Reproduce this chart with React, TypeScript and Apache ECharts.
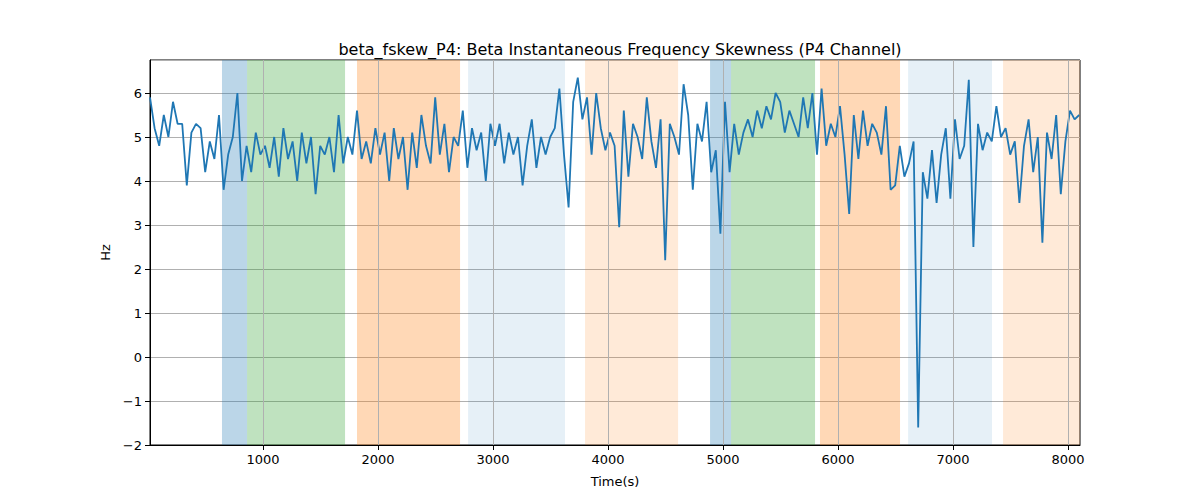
import React, { useEffect, useRef } from 'react';
import * as echarts from 'echarts';

const startTime = 17;
const step = 40;
const values: number[] = [
  5.9, 5.2, 4.8, 5.5, 5.0, 5.8, 5.3, 5.3, 3.9, 5.1, 5.3, 5.2, 4.2, 4.9, 4.5, 5.5, 3.8, 4.6, 5.0, 6.0, 4.0, 4.8, 4.2, 5.1, 4.6,
  4.8, 4.3, 5.0, 4.1, 5.2, 4.5, 4.9, 4.0, 5.1, 4.4, 5.0, 3.7, 4.8, 4.6, 5.0, 4.2, 5.5, 4.4, 5.0, 4.6, 5.6, 4.5, 4.9, 4.4, 5.2,
  4.6, 5.1, 4.0, 5.2, 4.5, 5.0, 3.8, 5.1, 4.3, 5.5, 4.8, 4.4, 5.9, 4.6, 5.3, 4.2, 5.0, 4.8, 5.6, 4.3, 5.2, 4.7, 5.1, 4.0, 5.3,
  4.8, 5.3, 4.4, 5.1, 4.6, 5.0, 3.9, 4.8, 5.4, 4.3, 5.0, 4.6, 5.0, 5.2, 6.1, 4.6, 3.4, 5.8, 6.35, 5.4, 5.9, 4.6, 6.0, 5.2, 4.7,
  5.1, 4.8, 2.95, 5.6, 4.1, 5.3, 5.0, 4.5, 5.9, 4.9, 4.3, 5.4, 2.2, 5.3, 5.0, 4.6, 6.2, 5.5, 3.8, 5.3, 4.9, 5.8, 4.2, 4.7, 2.8,
  5.8, 4.2, 5.3, 4.6, 5.1, 5.4, 5.0, 5.6, 5.2, 5.7, 5.4, 6.0, 5.8, 5.1, 5.6, 5.3, 5.0, 5.9, 5.2, 6.0, 4.6, 6.1, 4.8, 5.3, 5.0,
  5.7, 4.6, 3.25, 5.5, 4.5, 5.6, 4.8, 5.3, 5.1, 4.6, 5.7, 3.8, 3.9, 4.8, 4.1, 4.4, 4.9, -1.6, 4.2, 3.6, 4.7, 3.5, 4.6, 5.2, 3.6,
  5.4, 4.5, 4.8, 6.3, 2.5, 5.3, 4.7, 5.1, 4.9, 5.7, 5.0, 5.2, 4.6, 4.9, 3.5, 4.8, 5.4, 4.2, 5.0, 2.6, 5.1, 4.5, 5.5, 3.7, 4.9,
  5.6, 5.4, 5.5,
];

const bands: [number, number, string][] = [
  [643, 861, 'rgba(31,119,180,0.3)'],
  [861, 1713, 'rgba(44,160,44,0.3)'],
  [1817, 2713, 'rgba(255,127,14,0.3)'],
  [2783, 3626, 'rgba(31,119,180,0.11)'],
  [3800, 4609, 'rgba(255,127,14,0.16)'],
  [4887, 5070, 'rgba(31,119,180,0.3)'],
  [5070, 5800, 'rgba(44,160,44,0.3)'],
  [5843, 6539, 'rgba(255,127,14,0.3)'],
  [6609, 7339, 'rgba(31,119,180,0.11)'],
  [7435, 8104, 'rgba(255,127,14,0.16)'],
];

const xTicks = [1000, 2000, 3000, 4000, 5000, 6000, 7000, 8000];

const App: React.FC = () => {
  const chartRef = useRef<HTMLDivElement>(null);

  useEffect(() => {
    if (!chartRef.current) return;
    const chart = echarts.init(chartRef.current, undefined, { renderer: 'svg' });
    const font = 'DejaVu Sans';
    chart.setOption({
      animation: false,
      textStyle: { fontFamily: font },
      title: {
        text: 'beta_fskew_P4: Beta Instantaneous Frequency Skewness (P4 Channel)',
        left: 615, top: 36, textAlign: 'center',
        textStyle: { fontSize: 16, fontWeight: 'normal', color: '#000', fontFamily: font },
      },
      grid: { left: 150, right: 120, top: 60, bottom: 55, show: true, borderColor: '#000', borderWidth: 1 },
      xAxis: {
        type: 'value', min: startTime, max: 8104,
        name: 'Time(s)', nameLocation: 'middle', nameGap: 30,
        nameTextStyle: { fontSize: 13, color: '#000' },
        axisLine: { onZero: false, lineStyle: { color: '#000' } },
        axisTick: { show: true, customValues: xTicks, lineStyle: { color: '#000' } },
        axisLabel: { customValues: xTicks, color: '#000', fontSize: 13, formatter: (v: number) => String(v) },
        splitLine: { show: false },
      },
      yAxis: {
        type: 'value', min: -2, max: 6.75, interval: 1,
        name: 'Hz', nameLocation: 'middle', nameGap: 35,
        nameTextStyle: { fontSize: 13, color: '#000' },
        axisLine: { show: true, lineStyle: { color: '#000' } },
        axisTick: { show: true, lineStyle: { color: '#000' } },
        axisLabel: {
          color: '#000', fontSize: 13, showMaxLabel: false,
          formatter: (v: number) => (v < 0 ? '\u2212' + Math.abs(v) : String(v)),
        },
        splitLine: { show: true, lineStyle: { color: '#b0b0b0', width: 1 } },
      },
      series: [
        {
          type: 'line',
          data: values.map((v, i) => [startTime + i * step, v]),
          showSymbol: false,
          lineStyle: { color: '#1f77b4', width: 1.8 },
          markArea: {
            silent: true,
            data: bands.map(([a, b, c]) => [{ xAxis: a, itemStyle: { color: c } }, { xAxis: b }]),
          },
          markLine: {
            silent: true, symbol: 'none', label: { show: false },
            lineStyle: { color: '#b0b0b0', width: 1, type: 'solid' },
            data: xTicks.map((x) => ({ xAxis: x })),
          },
        },
      ],
    });
    return () => chart.dispose();
  }, []);

  return <div ref={chartRef} style={{ width: 1200, height: 500, margin: -8 }} />;
};

export default App;
